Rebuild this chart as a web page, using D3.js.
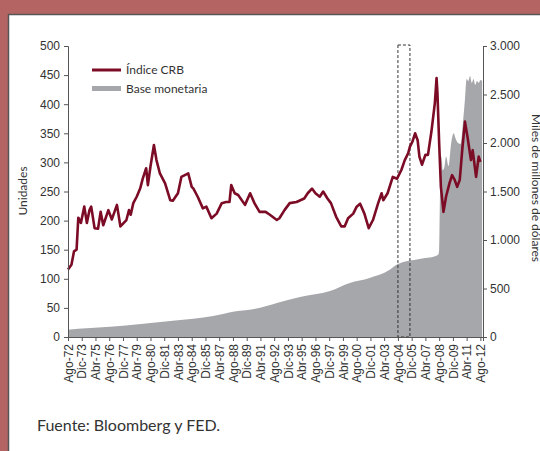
<!DOCTYPE html>
<html>
<head>
<meta charset="utf-8">
<script src="https://cdn.jsdelivr.net/npm/d3@7"></script>
<style>
  body { margin: 0; padding: 0; background: #fff; }
  .tick text { font-family: "Liberation Sans", Arial, sans-serif; font-size: 12px; fill: #333; }
  .axis path, .axis line { stroke: #555; }
  .lbl { font-family: Lato, "Open Sans", sans-serif; fill: #333; }
</style>
</head>
<body>
<svg id="chart" width="540" height="451"></svg>
<script>
// CRB index (units), monthly points
var crbDates = ["1972-08","1972-12","1973-03","1973-06","1973-08","1973-11","1974-03","1974-06","1974-09","1974-11",
  "1975-03","1975-07","1975-10","1976-01","1976-07","1976-11","1977-05","1977-09","1978-04","1978-07",
  "1978-09","1978-12","1979-04","1979-08","1979-11","1980-03","1980-05","1980-08","1980-12","1981-03",
  "1981-07","1982-01","1982-07","1982-10","1983-04","1983-08","1983-12","1984-04","1984-08","1984-10",
  "1985-03","1985-09","1986-01","1986-07","1987-01","1987-07","1987-12","1988-04","1988-06","1988-10",
  "1989-02","1989-10","1990-04","1990-09","1991-03","1991-10","1992-03","1992-11","1993-02","1993-08",
  "1994-02","1994-10","1995-07","1995-11","1996-04","1996-08","1997-01","1997-05","1997-10","1998-02",
  "1998-08","1999-02","1999-06","1999-10","2000-04","2000-08","2000-12","2001-05","2001-10","2002-03",
  "2002-09","2003-01","2003-03","2003-08","2004-02","2004-07","2004-12","2005-04","2005-08","2005-10",
  "2006-01","2006-04","2006-07","2006-09","2006-12","2007-04","2007-07","2007-11","2008-03","2008-05",
  "2008-06","2008-08","2008-10","2009-01","2009-04","2009-08","2009-11","2010-02","2010-05","2010-08",
  "2010-11","2011-02","2011-05","2011-09","2011-11","2012-03","2012-06","2012-08"];
var crbValues = [116,124,147,150,205,196,224,196,218,224,
  187,186,215,192,218,202,227,190,201,218,
  210,230,241,255,272,290,261,293,330,304,
  281,264,235,234,247,275,278,281,258,255,
  241,221,224,204,212,230,232,232,261,247,
  244,227,247,230,215,215,210,201,204,218,
  230,232,238,247,255,247,241,250,238,230,
  207,190,190,204,212,224,229,212,187,201,
  230,247,235,247,275,272,287,304,316,327,
  336,350,338,310,296,313,313,353,402,445,
  419,333,258,215,241,264,278,270,258,270,
  324,370,344,304,321,275,310,301];

// Base monetaria (miles de millones de dolares)
var baseDates = ["1972-08","1973-08","1975-03","1976-09","1977-12","1979-12","1980-11","1982-10","1984-10","1986-09",
  "1988-08","1990-07","1991-11","1992-12","1995-02","1998-01","1999-12","2001-11","2003-10","2004-08",
  "2006-09","2008-04","2008-07","2008-08","2008-09","2008-10","2008-11","2008-12","2009-02","2009-04",
  "2009-07","2009-10","2010-01","2010-03","2010-06","2010-09","2010-12","2011-02","2011-04","2011-06",
  "2011-08","2011-10","2011-12","2012-02","2012-04","2012-06","2012-08","2012-10"];
var baseValues = [75,86,96,106,116,137,147,168,189,216,
  261,285,320,354,412,474,557,608,690,752,
  804,835,850,900,1500,1750,1860,1720,1750,1860,
  1760,2000,2100,2050,2000,1990,2240,2450,2660,2640,
  2690,2620,2660,2600,2640,2620,2650,2640];

// x axis labels every 16 months
var tickLabels = ["Ago-72","Dic-73","Abr-75","Ago-76","Dic-77","Abr-79","Ago-80","Dic-81","Abr-83","Ago-84",
  "Dic-85","Abr-87","Ago-88","Dic-89","Abr-91","Ago-92","Dic-93","Abr-95","Ago-96","Dic-97",
  "Abr-99","Ago-00","Dic-01","Abr-03","Ago-04","Dic-05","Abr-07","Ago-08","Dic-09","Abr-11","Ago-12"];
var leftTicks = [0,50,100,150,200,250,300,350,400,450,500];
var rightTicks = [0,500,1000,1500,2000,2500,3000];
var boxDates = ["2004-08","2005-10"];

var parseM = d3.timeParse("%Y-%m");
var mesIdx = {"Ene":0,"Feb":1,"Mar":2,"Abr":3,"May":4,"Jun":5,"Jul":6,"Ago":7,"Sep":8,"Oct":9,"Nov":10,"Dic":11};
function labelDate(s) {
  var p = s.split("-");
  return new Date((+p[1] > 50 ? 1900 : 2000) + (+p[1]), mesIdx[p[0]], 1);
}

var crb = crbDates.map(function(d, i) { return {time: parseM(d), v: crbValues[i]}; });
var base = baseDates.map(function(d, i) { return {time: parseM(d), v: baseValues[i]}; });

var svg = d3.select("#chart");
var W = 540, H = 451;
var mLeft = 68, mRight = 483, mTop = 46, mBottom = 337;

var loc = d3.formatLocale({decimal: ",", thousands: ".", grouping: [3], currency: ["$", ""]});

// frame
svg.append("rect").attr("width", W).attr("height", H).attr("fill", "#b56464");
svg.append("rect").attr("x", 8.5).attr("y", 14.5).attr("width", W).attr("height", H)
  .attr("fill", "#fff").attr("stroke", "#555").attr("stroke-width", 1.5);

var x = d3.scaleTime().domain([parseM("1972-08"), parseM("2012-11")]).range([mLeft, mRight]);
var y = d3.scaleLinear().domain([0, 500]).range([mBottom, mTop]);
var y2 = d3.scaleLinear().domain([0, 3000]).range([mBottom, mTop]);

// base area
var area = d3.area()
  .curve(d3.curveMonotoneX)
  .x(function(d) { return x(d.time); })
  .y0(mBottom)
  .y1(function(d) { return y2(d.v); });
svg.append("path").datum(base).attr("d", area).attr("fill", "#a6a7aa");

// dashed box
svg.append("rect")
  .attr("x", x(parseM(boxDates[0]))).attr("y", mTop - 1)
  .attr("width", x(parseM(boxDates[1])) - x(parseM(boxDates[0])))
  .attr("height", mBottom - mTop + 1)
  .attr("fill", "none").attr("stroke", "#333").attr("stroke-width", 1)
  .attr("stroke-dasharray", "3,2");

// CRB line
var line = d3.line()
  .x(function(d) { return x(d.time); })
  .y(function(d) { return y(d.v); });
svg.append("path").datum(crb).attr("d", line)
  .attr("fill", "none").attr("stroke", "#7c0b26").attr("stroke-width", 2.6)
  .attr("stroke-linejoin", "round");

// axes
svg.append("g").attr("class", "axis").attr("transform", "translate(" + mLeft + ",0)")
  .call(d3.axisLeft(y).tickValues(leftTicks).tickSize(4).tickPadding(4));
svg.append("g").attr("class", "axis").attr("transform", "translate(" + mRight + ",0)")
  .call(d3.axisRight(y2).tickValues(rightTicks).tickSize(4).tickPadding(3).tickFormat(loc.format(",")));

var xTicks = tickLabels.map(labelDate);
var xg = svg.append("g").attr("class", "axis").attr("transform", "translate(0," + mBottom + ")")
  .call(d3.axisBottom(x).tickValues(xTicks).tickSize(4)
    .tickFormat(function(d, i) { return tickLabels[i]; }));
xg.selectAll(".tick text")
  .attr("transform", "rotate(-90)")
  .attr("text-anchor", "end")
  .attr("x", -7).attr("y", 0).attr("dy", "0.35em");

// axis titles
svg.append("text").attr("class", "lbl")
  .attr("transform", "translate(27,191) rotate(-90)")
  .attr("text-anchor", "middle").attr("font-size", 12).text("Unidades");
svg.append("text").attr("class", "lbl")
  .attr("transform", "translate(532,188) rotate(90)")
  .attr("text-anchor", "middle").attr("font-size", 12).text("Miles de millones de dólares");

// legend
svg.append("line").attr("x1", 92).attr("x2", 121).attr("y1", 70).attr("y2", 70)
  .attr("stroke", "#7c0b26").attr("stroke-width", 3);
svg.append("text").attr("class", "lbl").attr("x", 126).attr("y", 74).attr("font-size", 12).text("Índice CRB");
svg.append("rect").attr("x", 92).attr("y", 86).attr("width", 29).attr("height", 5).attr("fill", "#a6a7aa");
svg.append("text").attr("class", "lbl").attr("x", 126).attr("y", 93).attr("font-size", 12).text("Base monetaria");

// source
svg.append("text").attr("class", "lbl").attr("x", 37).attr("y", 431).attr("font-size", 16)
  .text("Fuente: Bloomberg y FED.");
</script>
</body>
</html>
